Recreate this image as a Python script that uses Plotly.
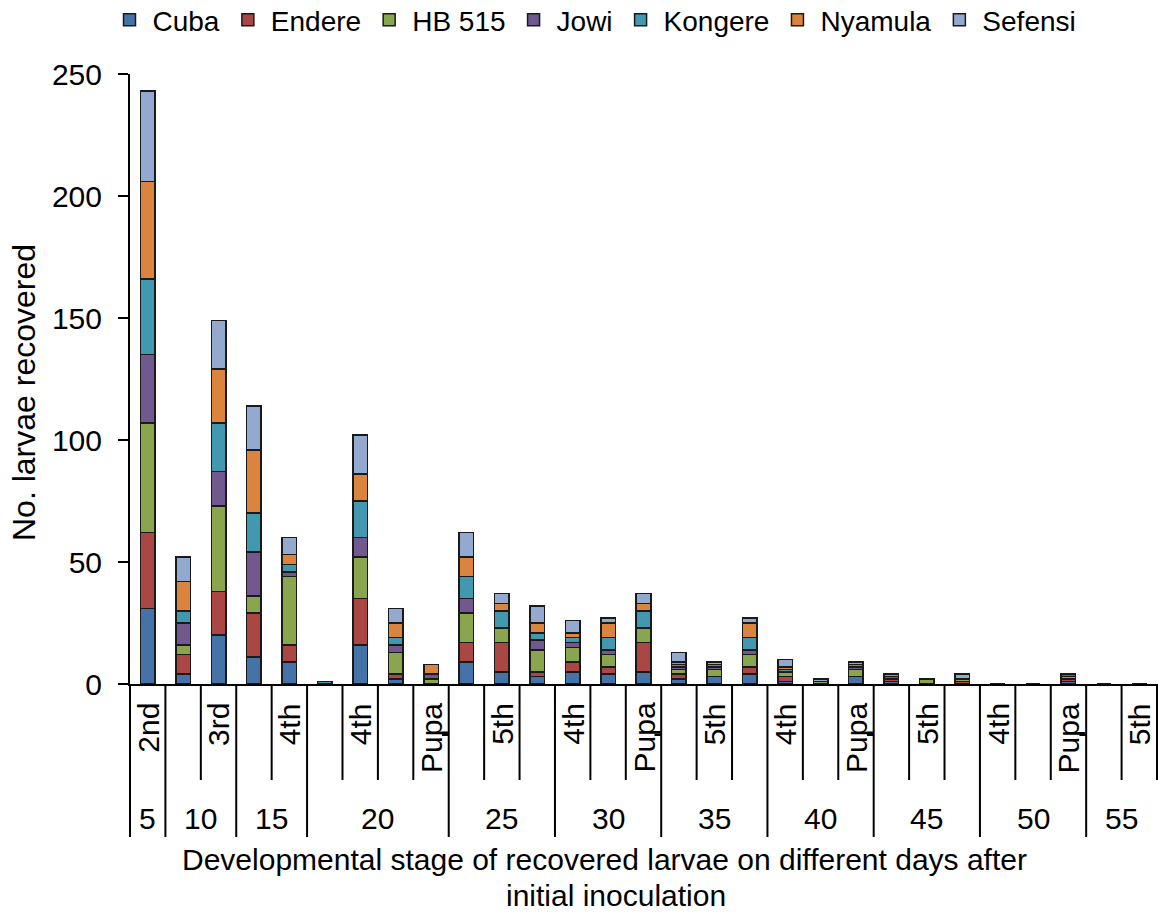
import plotly.graph_objects as go

# ---- data ----
varieties = ["Cuba", "Endere", "HB 515", "Jowi", "Kongere", "Nyamula", "Sefensi"]
colors = ["#4572A7", "#AA4643", "#89A54E", "#71588F", "#4198AF", "#DB843D", "#93A9CF"]

days = ["5", "10", "10", "15", "15", "20", "20", "20", "20", "25", "25", "25",
        "30", "30", "30", "35", "35", "35", "40", "40", "40", "45", "45", "45",
        "50", "50", "50", "55", "55"]
stages = ["2nd", "", "3rd", "", "4th", "", "4th", "", "Pupa", "", "5th", "",
          "4th", "", "Pupa", "", "5th", "", "4th", "", "Pupa", "", "5th", "",
          "4th", "", "Pupa", "", "5th"]

cuba    = [31, 4, 20, 11, 9, 0, 16, 2, 0, 9, 5, 3, 5, 4, 5, 2, 3, 4, 1, 0, 3, 1, 0, 0, 0, 0, 1, 0, 0]
endere  = [31, 8, 18, 18, 7, 0, 19, 2, 0, 8, 12, 2, 4, 3, 12, 2, 0, 3, 2, 0, 0, 1, 0, 1, 0, 0, 1, 0, 0]
hb515   = [45, 4, 35, 7, 28, 0, 17, 9, 2, 12, 6, 9, 6, 5, 6, 2, 3, 5, 2, 1, 3, 0, 2, 1, 0, 0, 1, 0, 0]
jowi    = [28, 9, 14, 18, 2, 0, 8, 3, 2, 6, 0, 4, 2, 2, 0, 1, 1, 2, 0, 0, 1, 1, 0, 0, 0, 0, 1, 0, 0]
kongere = [31, 5, 20, 16, 3, 1, 15, 3, 0, 9, 7, 3, 2, 5, 7, 1, 1, 5, 1, 0, 1, 0, 0, 0, 0, 0, 0, 0, 0]
nyamula = [40, 12, 22, 26, 4, 0, 11, 6, 4, 8, 3, 4, 2, 6, 3, 1, 0, 6, 1, 0, 0, 1, 0, 0, 0, 0, 0, 0, 0]
sefensi = [37, 10, 20, 18, 7, 0, 16, 6, 0, 10, 4, 7, 5, 2, 4, 4, 1, 2, 3, 1, 1, 0, 0, 2, 0, 0, 0, 0, 0]
series = [cuba, endere, hb515, jowi, kongere, nyamula, sefensi]

y_ticks = [0, 50, 100, 150, 200, 250]

# ---- layout geometry (page body margin is reset to 0 below) ----
W, H = 1162, 915
PLOT_L, PLOT_R, PLOT_T, PLOT_B = 130, 1157, 74, 684
ML, MR, MT, MB = PLOT_L, W - PLOT_R, PLOT_T, H - PLOT_B
PW, PH = PLOT_R - PLOT_L, PLOT_B - PLOT_T
FONT = "Liberation Sans, Arial, sans-serif"
n = len(days)
slots = list(range(n))


def py(p):  # pixel y -> paper y
    return (PLOT_B - p) / PH


def px(p):  # pixel x -> paper x
    return (p - PLOT_L) / PW


def px_slot(b):  # slot position -> paper x
    return (b + 0.5) / n


fig = go.Figure()
for name, col, vals in zip(varieties, colors, series):
    fig.add_trace(go.Bar(
        x=slots, y=vals, name=name, width=0.41,
        marker=dict(color=col, line=dict(color="#1a1a1a", width=1.5)),
    ))

shapes = []
annotations = []

# day groups
groups = []
start = 0
for i in range(1, n + 1):
    if i == n or days[i] != days[start]:
        groups.append((days[start], start, i - 1))
        start = i
full_bounds = set(g[1] - 0.5 for g in groups)

line_style = dict(color="black", width=2)
for k in range(n + 1):
    b = k - 0.5
    bottom = py(837) if b in full_bounds else py(780)
    shapes.append(dict(type="line", xref="paper", yref="paper",
                       x0=px_slot(b), x1=px_slot(b), y0=0, y1=bottom, line=line_style))

for s, st in enumerate(stages):
    if st:
        annotations.append(dict(text=st, xref="x", x=s, yref="paper", y=py(701),
                                yanchor="top", xanchor="center", textangle=-90, showarrow=False,
                                font=dict(size=30, color="black", family=FONT)))
    if st == "Pupa":
        shapes.append(dict(type="line", xref="paper", yref="paper",
                           x0=px_slot(s + 0.31), x1=px_slot(s + 0.5),
                           y0=py(735), y1=py(735), line=line_style))

for d, a, b in groups:
    annotations.append(dict(text=d, xref="x", x=(a + b) / 2, yref="paper", y=py(818),
                            yanchor="middle", xanchor="center", showarrow=False,
                            font=dict(size=30, color="black", family=FONT)))

annotations.append(dict(text="Developmental stage of recovered larvae on different days after",
                        xref="paper", x=px(604), yref="paper", y=py(859),
                        xanchor="center", yanchor="middle", showarrow=False,
                        font=dict(size=30, color="black", family=FONT)))
annotations.append(dict(text="initial inoculation",
                        xref="paper", x=px(616), yref="paper", y=py(914),
                        xanchor="center", yanchor="bottom", showarrow=False,
                        font=dict(size=30, color="black", family=FONT)))
annotations.append(dict(text="No. larvae recovered", xref="paper", x=px(24),
                        yref="paper", y=py(393), xanchor="center", yanchor="middle",
                        textangle=-90, showarrow=False,
                        font=dict(size=32, color="black", family=FONT)))

fig.update_layout(
    width=W, height=H,
    margin=dict(l=ML, r=MR, t=MT, b=MB, autoexpand=False),
    barmode="stack",
    plot_bgcolor="white", paper_bgcolor="white",
    font=dict(family=FONT, size=28, color="black"),
    showlegend=True,
    legend=dict(orientation="h", x=px(594), xanchor="center",
                y=py(20), yanchor="middle", traceorder="normal",
                font=dict(size=28, family=FONT, color="black"),
                bgcolor="rgba(0,0,0,0)", itemwidth=36),
    xaxis=dict(range=[-0.5, n - 0.5], showticklabels=False, ticks="",
               showgrid=False, zeroline=False, showline=True, linecolor="black", linewidth=2),
    yaxis=dict(range=[0, 250], tickvals=y_ticks, ticks="outside", ticklen=10, tickwidth=2,
               tickcolor="black", showgrid=False, zeroline=False, showline=True,
               linecolor="black", linewidth=2, ticklabelstandoff=10,
               tickfont=dict(size=30, family=FONT, color="black")),
    shapes=shapes,
    annotations=annotations,
)

fig.write_html("out.html", config={"displayModeBar": False},
               post_script="document.body.style.margin='0px';")
